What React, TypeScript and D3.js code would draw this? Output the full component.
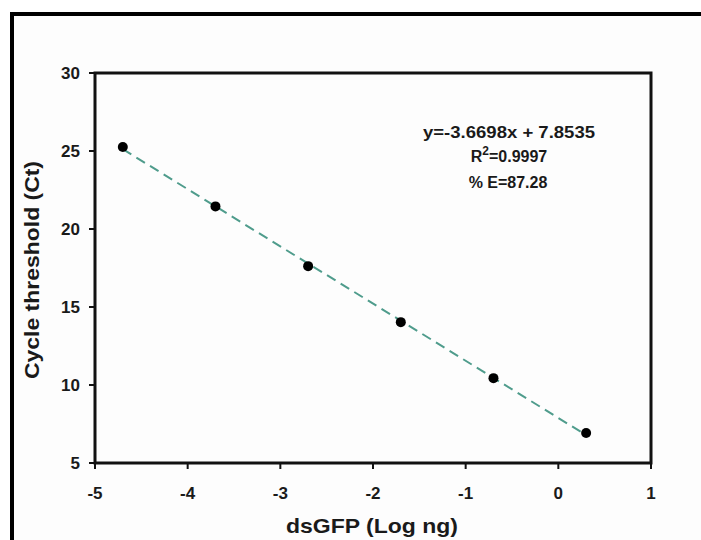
import React from "react";
import * as d3 from "d3";

const xValues = [-4.7, -3.7, -2.7, -1.7, -0.7, 0.3];
const ctValues = [25.26, 21.45, 17.62, 14.03, 10.44, 6.92];
const xTicks = [-5, -4, -3, -2, -1, 0, 1];
const yTicks = [5, 10, 15, 20, 25, 30];
const equationLines = ["y=-3.6698x + 7.8535", "R2=0.9997", "% E=87.28"];

export default function App() {
  const W = 701, H = 540;
  const x = d3.scaleLinear().domain([-5, 1]).range([95, 651]);
  const y = d3.scaleLinear().domain([5, 30]).range([463, 73]);
  const n = xValues.length;
  const mx = d3.mean(xValues)!, my = d3.mean(ctValues)!;
  let sxy = 0, sxx = 0;
  for (let i = 0; i < n; i++) {
    sxy += (xValues[i] - mx) * (ctValues[i] - my);
    sxx += (xValues[i] - mx) ** 2;
  }
  const slope = sxy / sxx;
  const icpt = my - slope * mx;
  const x0 = d3.min(xValues)!, x1 = d3.max(xValues)!;
  const line = d3.line<number>().x((v) => x(v)).y((v) => y(slope * v + icpt));
  const font = "'Liberation Sans', Arial, sans-serif";
  const ink = "#1a1a1a";
  return (
    <svg width={W} height={H} style={{ position: "absolute", left: 0, top: 0, background: "#fff" }} fontFamily={font}>
      <rect x={0} y={0} width={W} height={H} fill="#fff" />
      <rect x={12} y={14} width={W + 20} height={H + 20} fill="#fdfdfd" stroke="#000" strokeWidth={4} />
      <rect x={x(-5)} y={y(30)} width={x(1) - x(-5)} height={y(5) - y(30)} fill="none" stroke="#111" strokeWidth={3} />
      {xTicks.map((t) => (
        <g key={"x" + t}>
          <line x1={x(t)} x2={x(t)} y1={y(5)} y2={y(5) + 6} stroke="#111" strokeWidth={2} />
          <text x={x(t)} y={499} textAnchor="middle" fontSize={17} fontWeight="bold" fill={ink}>{t}</text>
        </g>
      ))}
      {yTicks.map((t) => (
        <g key={"y" + t}>
          <line x1={x(-5) - 6} x2={x(-5)} y1={y(t)} y2={y(t)} stroke="#111" strokeWidth={2} />
          <text x={80} y={y(t) + 6} textAnchor="end" fontSize={17} fontWeight="bold" fill={ink}>{t}</text>
        </g>
      ))}
      <path d={line([x0, x1]) || ""} fill="none" stroke="#4f9c8c" strokeWidth={2} strokeDasharray="10,6" />
      {xValues.map((v, i) => (
        <circle key={i} cx={x(v)} cy={y(ctValues[i])} r={5} fill="#000" />
      ))}
      <text x={509} y={138} textAnchor="middle" fontSize={16} fontWeight="bold" fill={ink} textLength={172} lengthAdjust="spacingAndGlyphs">{equationLines[0]}</text>
      <text x={509} y={162} textAnchor="middle" fontSize={16} fontWeight="bold" fill={ink}>
        R<tspan dy={-7} fontSize={12}>2</tspan><tspan dy={7}>{equationLines[1].slice(2)}</tspan>
      </text>
      <text x={508} y={188} textAnchor="middle" fontSize={16} fontWeight="bold" fill={ink}>{equationLines[2]}</text>
      <text x={372} y={533} textAnchor="middle" fontSize={21} fontWeight="bold" fill={ink} textLength={172} lengthAdjust="spacingAndGlyphs">dsGFP (Log ng)</text>
      <text transform={`translate(39,270) rotate(-90)`} textAnchor="middle" fontSize={21} fontWeight="bold" fill={ink} textLength={218} lengthAdjust="spacingAndGlyphs">Cycle threshold (Ct)</text>
    </svg>
  );
}
